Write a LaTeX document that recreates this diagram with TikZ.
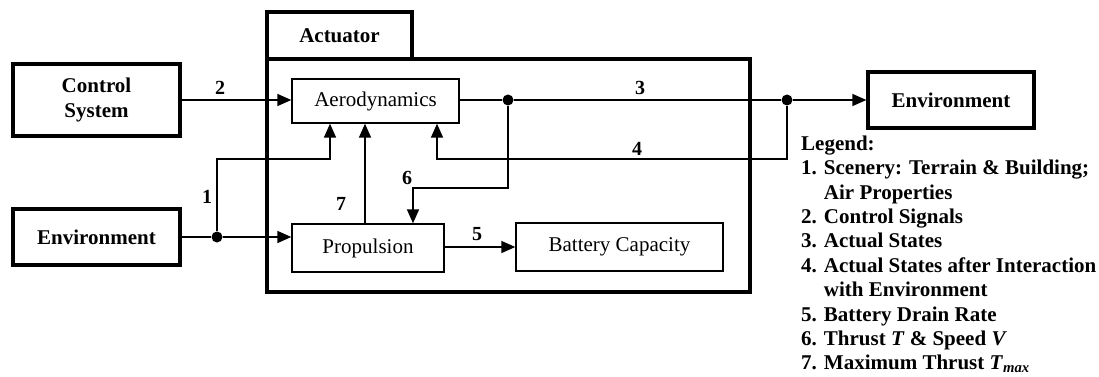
\documentclass[tikz,border=0pt]{standalone}
\usepackage{fontspec}
\setmainfont{Liberation Serif}
\usetikzlibrary{arrows.meta,calc}
\tikzset{
  thickbox/.style={draw, line width=3.2pt, inner sep=0pt, align=center, font=\bfseries\fontsize{21}{25}\selectfont},
  thinbox/.style={draw, line width=1.3pt, inner sep=0pt, font=\fontsize{21}{25}\selectfont},
  conn/.style={line width=1.5pt},
  arr/.style={conn, -{Triangle[length=14pt,width=12pt]}},
  lbl/.style={font=\bfseries\fontsize{20}{24}\selectfont, inner sep=0pt},
  junction/.style={circle, fill, inner sep=0pt, minimum size=11pt},
}
\begin{document}
\begin{tikzpicture}[x=1pt,y=-1pt]
\useasboundingbox (0,0) rectangle (1099,377);
% outer boxes
\node[thickbox, minimum width=167pt, minimum height=72pt] (cs) at (96.5,100) {Control\\System};
\node[thickbox, minimum width=167pt, minimum height=56pt] (envL) at (96.5,237) {Environment};
\node[thickbox, minimum width=166pt, minimum height=56pt] (envR) at (951,100) {Environment};
\node[thickbox, minimum width=145pt, minimum height=47pt] (tab) at (339.5,35.5) {Actuator};
\node[draw, line width=3.2pt, inner sep=0pt, minimum width=483pt, minimum height=233pt] (act) at (508.5,175.5) {};
% inner boxes
\node[thinbox, minimum width=167pt, minimum height=44pt] (aero) at (375.5,101) {Aerodynamics};
\node[thinbox, minimum width=152pt, minimum height=48pt] (prop) at (368,248) {Propulsion};
\node[thinbox, minimum width=207pt, minimum height=48pt] (batt) at (619.5,247) {Battery Capacity};
% junctions
\node[junction] (j1) at (217,237) {};
\node[junction] (j2) at (508,100) {};
\node[junction] (j3) at (787,100) {};
\coordinate (c1) at (330,159);
\coordinate (c4) at (437,159);
\coordinate (c6) at (413,188);
\coordinate (c7) at (365,0);
% connectors
\draw[arr] (cs.east) -- (cs.east -| aero.west);
\draw[conn] (aero.east |- j2) -- (j2) -- (j3);
\draw[arr] (j3) -- (envR.west);
\draw[arr] (j3) |- (c4) -- (c4 |- aero.south);
\draw[arr] (j2) |- (c6) -- (c6 |- prop.north);
\draw[conn] (envL.east) -- (j1);
\draw[arr] (j1) -- (j1 -| prop.west);
\draw[arr] (j1) |- (c1) -- (c1 |- aero.south);
\draw[arr] (c7 |- prop.north) -- (c7 |- aero.south);
\draw[arr] (prop.east |- batt.west) -- (batt.west);
% labels
\node[lbl] (l1) at (207,197) {1};
\node[lbl] (l2) at (220,88) {2};
\node[lbl] (l3) at (640,88) {3};
\node[lbl] (l4) at (637,149) {4};
\node[lbl] (l5) at (477,234) {5};
\node[lbl] (l6) at (407,178) {6};
\node[lbl] (l7) at (341,204) {7};
% legend
\node[anchor=north west, align=left, inner sep=0pt, font=\bfseries\fontsize{21}{24.4}\selectfont] (legend) at (801,135.5) {Legend:\\
1. Scenery: Terrain \& Building;\\
\phantom{1. }Air Properties\\
2. Control Signals\\
3. Actual States\\
4. Actual States after Interaction\\
\phantom{4. }with Environment\\
5. Battery Drain Rate\\
6. Thrust \textit{T} \& Speed \textit{V}\\
7. Maximum Thrust \textit{T}\textsubscript{\textit{max}}};
\end{tikzpicture}
\end{document}
